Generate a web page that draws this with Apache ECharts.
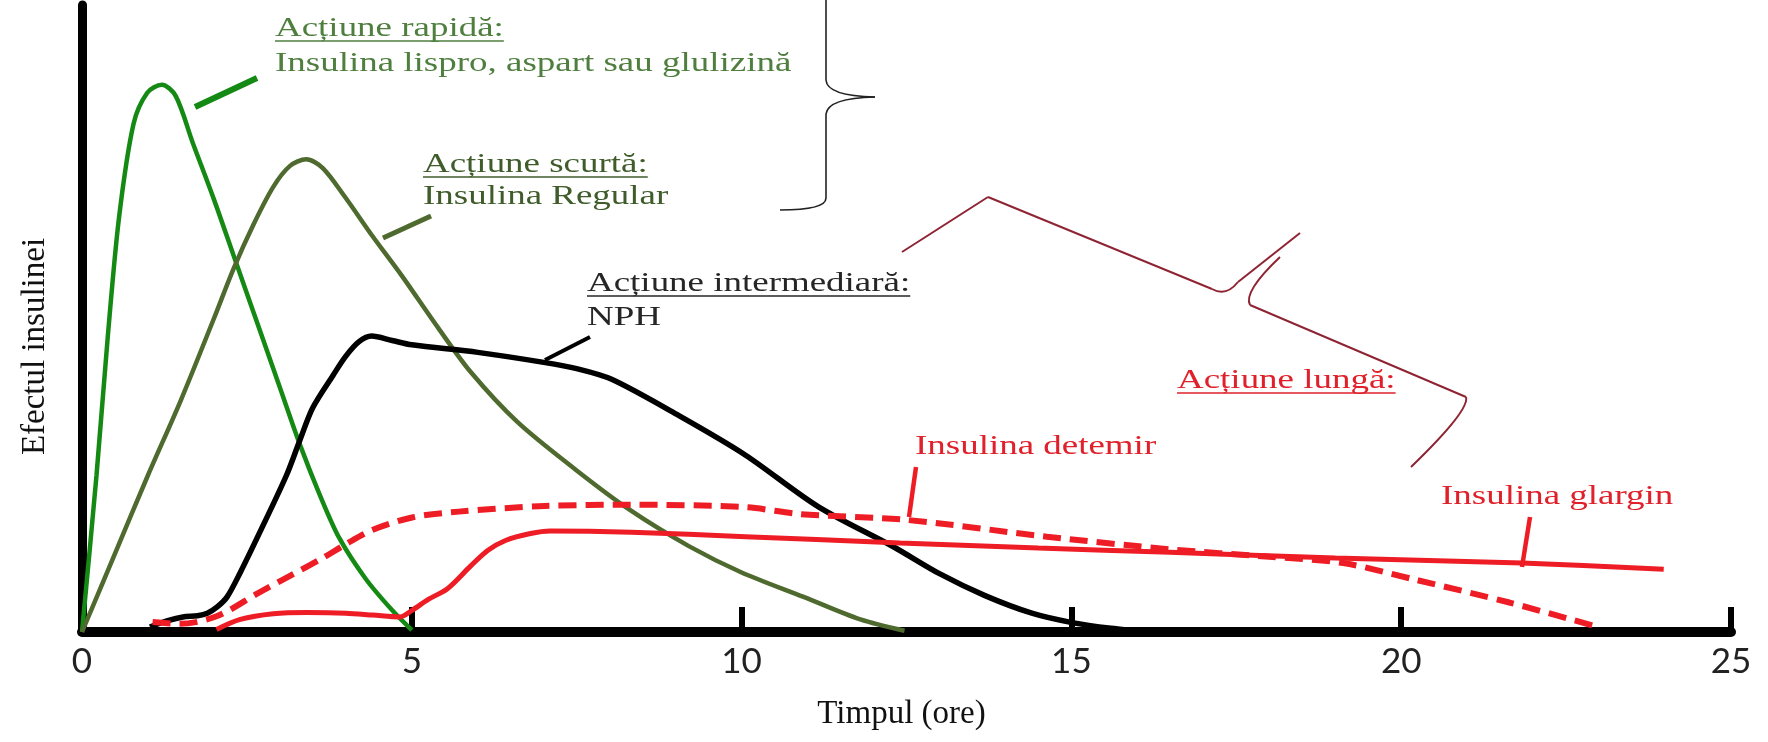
<!DOCTYPE html>
<html><head><meta charset="utf-8">
<script src="https://cdn.jsdelivr.net/npm/echarts@6/dist/echarts.min.js"></script>
<style>html,body{margin:0;padding:0;background:#fff}#c{width:1768px;height:742px}</style>
</head><body><div id="c"></div>
<script>
// ---- data (hours after injection, relative insulin effect 0-100) ----
const xTicks = [0, 5, 10, 15, 20, 25];

const hoursRapid  = [0, 0.22, 0.39, 0.56, 0.78, 0.99, 1.21, 1.42, 1.68, 2.0, 2.3, 2.7, 3.0, 3.3, 3.6, 3.9, 4.3, 4.7, 5.0];
const effectRapid = [0, 25, 47, 66, 81, 86, 87.3, 85.5, 78, 69, 60, 48, 39, 30, 22, 15, 8.5, 3.5, 0.3];

const hoursShort  = [0, 0.5, 1.0, 1.5, 2.0, 2.3, 2.6, 2.9, 3.15, 3.4, 3.65, 3.98, 4.4, 4.85, 5.4, 5.89, 6.6, 7.47, 8.3, 9.2, 10.0, 10.94, 11.8, 12.47];
const effectShort = [0, 12.5, 25, 37, 50, 58, 65, 71, 74.3, 75.4, 74.0, 69.5, 63.2, 56.8, 48.5, 41.5, 33.5, 26, 19.5, 13.7, 9.5, 5.6, 2, 0.2];

const hoursNph  = [1.03, 1.3, 1.53, 1.75, 1.9, 2.05, 2.2, 2.4, 2.7, 3.1, 3.3, 3.5, 3.81, 4.0, 4.2, 4.39, 4.7, 5.0, 6.0, 7.0, 7.5, 8.03, 9.05, 10.06, 11.16, 12.3, 13.0, 13.69, 14.4, 15.01, 15.6, 16.2];
const effectNph = [0.8, 1.8, 2.4, 2.6, 3.0, 4.0, 5.6, 9.5, 16, 25, 30.5, 35.8, 41, 44, 46.3, 47.2, 46.5, 45.8, 44.6, 43.0, 42, 40.3, 34.5, 28.2, 20.0, 13.6, 9.3, 5.8, 3.0, 1.5, 0.6, 0];

const hoursDetemir  = [1.07, 1.48, 2.04, 2.67, 3.16, 3.65, 4.0, 4.41, 5.02, 5.71, 7.02, 8.33, 10.06, 10.89, 12.48, 14.63, 16.49, 18.0, 19.12, 20.23, 21.64, 22.95];
const effectDetemir = [1.6, 1.3, 2.5, 6.2, 9.0, 11.8, 14.0, 16.3, 18.3, 19.2, 20.1, 20.3, 19.9, 18.8, 17.9, 15.2, 13.2, 12.0, 11.0, 8.3, 4.7, 0.9];

const hoursGlargin  = [2.04, 2.4, 2.9, 3.41, 4.0, 4.41, 4.82, 5.01, 5.25, 5.54, 5.89, 6.15, 6.42, 6.8, 7.1, 8.33, 10.06, 12.4, 14.5, 16.49, 19.0, 21.83, 23.98];
const effectGlargin = [0.4, 2.0, 2.9, 3.1, 3.0, 2.7, 2.4, 3.5, 5.2, 6.9, 10.5, 13.0, 14.6, 15.7, 16.1, 15.9, 15.2, 14.2, 13.4, 12.7, 11.8, 11.0, 10.0];

const xAxisTitle = 'Timpul (ore)';
const yAxisTitle = 'Efectul insulinei';

// ---- rendering ----
const pair = (h, v) => h.map((x, i) => [x, v[i]]);
const SERIF = '"Liberation Serif", "Times New Roman", serif';
const mctx = document.createElement('canvas').getContext('2d');
function textW(t, size) { mctx.font = size + 'px ' + SERIF; return mctx.measureText(t).width; }
const FS = 28, SX = 1.32;

function label(t, x, base, color, underline) {
  const els = [{
    type: 'text', x: x, y: base - 8, scaleX: SX, z: 100,
    style: { text: t, fill: color, font: FS + 'px ' + SERIF, textAlign: 'left', verticalAlign: 'middle' }
  }];
  if (underline) {
    const w = textW(t, FS) * SX;
    els.push({ type: 'line', z: 100, shape: { x1: x, y1: base + 4, x2: x + w, y2: base + 4 },
      style: { stroke: color, lineWidth: 1.6 } });
  }
  return els;
}
function seg(x1, y1, x2, y2, color, w) {
  return { type: 'line', z: 90, shape: { x1, y1, x2, y2 }, style: { stroke: color, lineWidth: w, lineCap: 'butt' } };
}
function bez(x1, y1, cx, cy, x2, y2, color, w) {
  return { type: 'bezierCurve', z: 90, shape: { x1, y1, x2, y2, cpx1: cx, cpy1: cy }, style: { stroke: color, lineWidth: w, fill: null } };
}

const GREEN = '#148a14', OLIVE = '#4f6a2e', RED = '#ee1c24', MAROON = '#8e2433';
const TXT_GREEN = '#4f7f3f', TXT_OLIVE = '#3f5c2a', TXT_DARK = '#262626', TXT_RED = '#e0202a';

const graphics = [].concat(
  label('Acțiune rapidă:', 275, 37, TXT_GREEN, true),
  label('Insulina lispro, aspart sau glulizină', 275, 72, TXT_GREEN, false),
  label('Acțiune scurtă:', 423, 173, TXT_OLIVE, true),
  label('Insulina Regular', 423, 205, TXT_OLIVE, false),
  label('Acțiune intermediară:', 587, 292, TXT_DARK, true),
  label('NPH', 587, 326, TXT_DARK, false),
  label('Acțiune lungă:', 1177, 389, TXT_RED, true),
  label('Insulina detemir', 915, 455, TXT_RED, false),
  label('Insulina glargin', 1441, 505, TXT_RED, false),
  [
    seg(195, 107, 257, 78, GREEN, 6),
    seg(383, 238, 431, 216, OLIVE, 5),
    seg(545, 360, 590, 337, '#000', 4),
    seg(916, 467, 909, 517, RED, 4.5),
    seg(1530, 517, 1522, 567, RED, 4.5),
    // black brace (rapid + short)
    seg(826, 0, 826, 80, '#222', 1.6),
    bez(826, 80, 827, 96, 875, 97, '#222', 1.6),
    bez(875, 97, 828, 98, 826, 114, '#222', 1.6),
    seg(826, 114, 826, 198, '#222', 1.6),
    bez(826, 198, 826, 210, 780, 210, '#222', 1.6),
    // maroon brace (long acting)
    seg(902, 252, 988, 197, MAROON, 2),
    seg(988, 197, 1212, 289, MAROON, 2),
    bez(1212, 289, 1226, 297, 1238, 282, MAROON, 2),
    seg(1238, 282, 1300, 233, MAROON, 2),
    bez(1280, 257, 1243, 292, 1250, 305, MAROON, 2),
    seg(1250, 305, 1466, 397, MAROON, 2),
    bez(1466, 397, 1470, 410, 1411, 467, MAROON, 2)
  ]
);

const lineSeries = (name, h, v, color, width, type) => ({
  name, type: 'line', data: pair(h, v), showSymbol: false, smooth: 0.3,
  lineStyle: { color, width, type: type || 'solid', cap: 'butt' }, emphasis: { disabled: true }, silent: true
});

const option = {
  animation: false,
  backgroundColor: '#ffffff',
  grid: { left: 82, right: 37, top: 5, bottom: 110 },
  xAxis: {
    type: 'value', min: xTicks[0], max: xTicks[xTicks.length - 1], interval: 5,
    name: xAxisTitle, nameLocation: 'middle', nameGap: 66,
    nameTextStyle: { fontFamily: SERIF, fontSize: 33, color: '#111', padding: [0, 10, 0, 0] },
    axisLine: { onZero: false, lineStyle: { color: '#000', width: 10 } },
    axisTick: { show: true, inside: true, length: 25, lineStyle: { color: '#000', width: 6 } },
    axisLabel: { fontFamily: 'Lato, "Open Sans", sans-serif', fontSize: 35, color: '#222', margin: 12,
      formatter: v => xTicks.includes(v) ? String(v) : '' },
    splitLine: { show: false }
  },
  yAxis: {
    type: 'value', min: 0, max: 100,
    name: yAxisTitle, nameLocation: 'middle', nameRotate: 90, nameGap: 30,
    nameTextStyle: { fontFamily: SERIF, fontSize: 33, color: '#111', padding: [0, 56, 0, 0] },
    axisLine: { show: true, lineStyle: { color: '#000', width: 9 } },
    axisTick: { show: false }, axisLabel: { show: false }, splitLine: { show: false }
  },
  series: [
    lineSeries('Acțiune rapidă', hoursRapid, effectRapid, GREEN, 4.5),
    lineSeries('Acțiune scurtă', hoursShort, effectShort, OLIVE, 4.5),
    lineSeries('Acțiune intermediară (NPH)', hoursNph, effectNph, '#000', 5.5),
    lineSeries('Insulina glargin', hoursGlargin, effectGlargin, RED, 5),
    lineSeries('Insulina detemir', hoursDetemir, effectDetemir, RED, 6, [18, 9])
  ],
  graphic: graphics
};
const chart = echarts.init(document.getElementById('c'));
chart.setOption(option);
</script></body></html>
